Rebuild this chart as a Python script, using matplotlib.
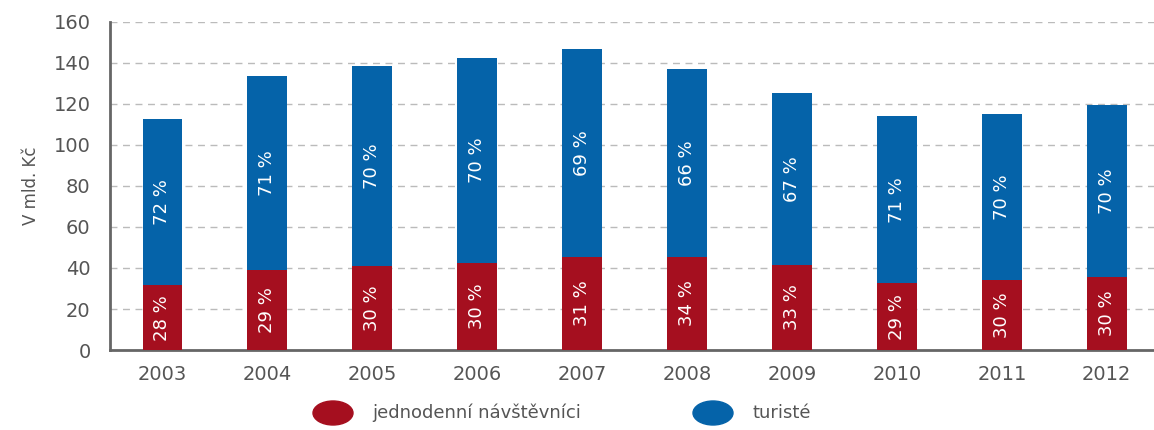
import matplotlib
matplotlib.use('Agg')
import matplotlib.pyplot as plt
from matplotlib.patches import Ellipse

years = ['2003', '2004', '2005', '2006', '2007', '2008', '2009', '2010', '2011', '2012']
jednodenni = [31.5, 39.0, 41.0, 42.5, 45.5, 45.5, 41.5, 32.5, 34.0, 35.5]
turiste = [81.0, 94.5, 97.5, 100.0, 101.5, 91.5, 84.0, 81.5, 81.0, 84.0]
pct_jedn = ['28 %', '29 %', '30 %', '30 %', '31 %', '34 %', '33 %', '29 %', '30 %', '30 %']
pct_tur = ['72 %', '71 %', '70 %', '70 %', '69 %', '66 %', '67 %', '71 %', '70 %', '70 %']
yticks = [0, 20, 40, 60, 80, 100, 120, 140, 160]

red = '#A50F1F'
blue = '#0563A9'
gray = '#555555'

plt.rcParams['font.family'] = ['DejaVu Sans']

fig = plt.figure(figsize=(11.54, 4.30), dpi=100)
ax = fig.add_axes([0.0953, 0.186, 0.9047, 0.763])

x = list(range(len(years)))
ax.bar(x, jednodenni, width=0.38, color=red, zorder=3)
ax.bar(x, turiste, width=0.38, bottom=jednodenni, color=blue, zorder=3)

for i in x:
    ax.text(i, jednodenni[i] / 2, pct_jedn[i], rotation=90, ha='center', va='center',
            color='white', fontsize=13, zorder=4)
    ax.text(i, jednodenni[i] + turiste[i] / 2, pct_tur[i], rotation=90, ha='center',
            va='center', color='white', fontsize=13, zorder=4)

ax.set_xlim(-0.5, 9.45)
ax.set_ylim(0, 160)
ax.set_yticks(yticks)
ax.set_xticks(x)
ax.set_xticklabels(years)
ax.tick_params(axis='both', length=0, labelsize=14, colors=gray)
ax.tick_params(axis='x', pad=11)
ax.tick_params(axis='y', pad=14)
ax.grid(axis='y', linestyle=(0, (5, 4)), color='#BBBBBB', linewidth=1, zorder=0)
for s in ['top', 'right']:
    ax.spines[s].set_visible(False)
for s in ['left', 'bottom']:
    ax.spines[s].set_color('#666666')
    ax.spines[s].set_linewidth(2)
ax.set_ylabel('V mld. Kč', fontsize=12, color=gray, labelpad=10)

# legend
fig.patches.append(Ellipse((333 / 1154, 1 - 413 / 430), 40 / 1154, 24 / 430,
                           transform=fig.transFigure, color=red))
fig.text(372 / 1154, 1 - 413 / 430, 'jednodenní návštěvníci', fontsize=13,
         color=gray, va='center')
fig.patches.append(Ellipse((713 / 1154, 1 - 413 / 430), 40 / 1154, 24 / 430,
                           transform=fig.transFigure, color=blue))
fig.text(752 / 1154, 1 - 413 / 430, 'turisté', fontsize=13, color=gray, va='center')

fig.savefig('out.png', dpi=100)
